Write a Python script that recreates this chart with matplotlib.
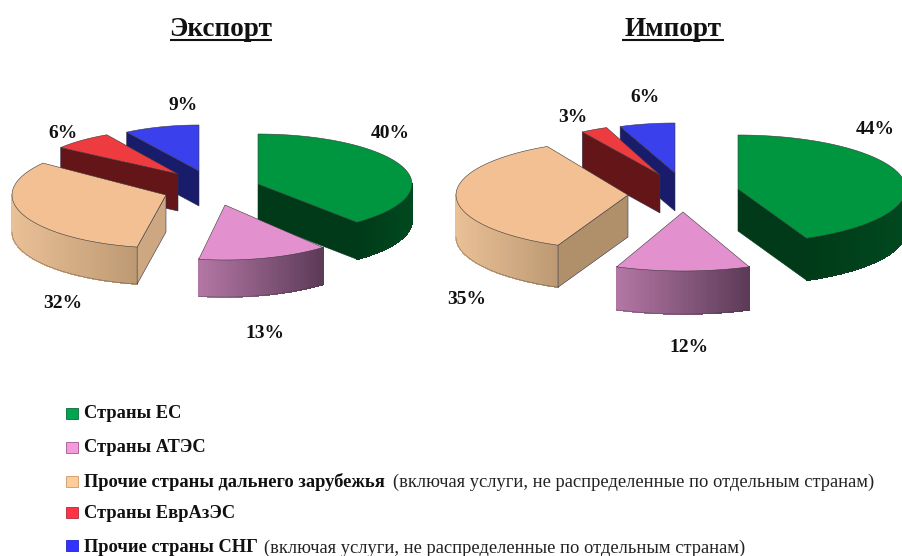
# Экспорт / Импорт - разнесенные объемные круговые диаграммы
import matplotlib
matplotlib.use('Agg')
import matplotlib.pyplot as plt
import matplotlib.colors as mcolors
from matplotlib.collections import PolyCollection
from matplotlib.patches import Polygon, Rectangle
import numpy as np

plt.rcParams['font.family'] = ['Liberation Serif', 'DejaVu Serif']

# данные
titles = ['Экспорт', 'Импорт']
export_vals = [40, 13, 32, 6, 9]
import_vals = [44, 12, 35, 3, 6]
categories_bold = ['Страны ЕС', 'Страны АТЭС', 'Прочие страны дальнего зарубежья',
                   'Страны ЕврАзЭС', 'Прочие страны СНГ']
categories_note = ['', '', '(включая услуги, не распределенные по отдельным странам)',
                   '', '(включая услуги, не распределенные по отдельным странам)']

# цвета
top_col = ['#009640', '#E391CE', '#F2C092', '#EE3B3F', '#3A40EC']
export_cut = ['#003A18', '#5C3B57', '#CCA781', '#641518', '#191C6A']
import_cut = ['#003A18', '#5C3B57', '#B0906B', '#641518', '#191C6A']
rim_left = ['#003A18', '#B477A6', '#EAC096', '#641518', '#191C6A']
rim_right = ['#00491F', '#5C3B57', '#BD9A74', '#641518', '#191C6A']
legend_col = ['#00A550', '#F39BDC', '#FFCC99', '#FF3344', '#3333FF']
legend_edge = ['#0B6B38', '#A5568F', '#C79A6A', '#B02A38', '#2222CC']

# положение секторов: вершина x, y, радиусы rx, ry, высота, поправки углов из-за перспективы
export_layout = [(258, 184, 154, 50, 37, 0, -4), (225, 205, 154, 55, 37, -3.5, -1),
                 (166, 195, 154, 53, 37, 0, 1), (178, 174, 145, 45, 37, 0, 3),
                 (199, 171, 135, 46, 35, 0, 0)]
import_layout = [(738, 189, 168, 54, 42, 0, -2.5), (683, 212, 180, 59, 43, 0, 0),
                 (628, 195, 172, 55, 42, 2.4, 4.4), (660, 175, 145, 51, 38, 0, 0),
                 (675, 173, 149, 50, 38, 0, 0)]
export_text = [(390, 133), (265, 333), (63, 303), (63, 133), (183, 105)]
import_text = [(875, 129), (689, 347), (467, 299), (573, 117), (645, 97)]
title_pos = [(221, 29), (673, 29)]
legend_y = [413, 447, 481, 512, 545]
legend_text_y = [413, 447, 482, 514, 548]
note_x = [0, 0, 393, 0, 264]

fig = plt.figure(figsize=(9.03, 5.56), dpi=100)
ax = fig.add_axes([0, 0, 1, 1])
ax.set_xlim(0, 903)
ax.set_ylim(556, 0)
ax.axis('off')


def rim_point(lay, a):
    x, y, rx, ry = lay[:4]
    return np.column_stack([x + rx * np.sin(a), y - ry * np.cos(a)])


def draw_slice(lay, a0, a1, i, cut_col):
    x, y, rx, ry, h, d0, d1 = lay
    a0 += np.radians(d0)
    a1 += np.radians(d1)
    down = np.array([0, h])
    apex = np.array([x, y])

    # боковая поверхность с градиентом
    r0, r1 = max(a0, np.pi / 2), min(a1, 3 * np.pi / 2)
    if r1 > r0:
        aa = np.linspace(r0, r1, 50)
        pts = rim_point(lay, aa)
        quads = [[pts[k], pts[k + 1], pts[k + 1] + down, pts[k] + down] for k in range(len(aa) - 1)]
        xs = pts[:, 0]
        c0, c1 = np.array(mcolors.to_rgb(rim_left[i])), np.array(mcolors.to_rgb(rim_right[i]))
        t = (xs[:-1] - xs.min()) / max(xs.max() - xs.min(), 1)
        cols = [c0 + (c1 - c0) * v for v in t]
        ax.add_collection(PolyCollection(quads, facecolors=cols, edgecolors=cols,
                                         linewidths=0.5, antialiaseds=False))
        ax.plot(pts[:, 0], pts[:, 1] + h, color='#3a3a3a', lw=0.4, alpha=0.6)

    # срезы, которые видны зрителю
    if np.sin(a0) < -1e-6:
        p = rim_point(lay, np.array([a0]))[0]
        ax.add_patch(Polygon([apex, p, p + down, apex + down], fc=cut_col[i], ec='#33304a', lw=0.4))
    if np.sin(a1) > 1e-6:
        p = rim_point(lay, np.array([a1]))[0]
        ax.add_patch(Polygon([apex, p, p + down, apex + down], fc=cut_col[i], ec=cut_col[i], lw=0.4))

    # верхняя грань
    pts = rim_point(lay, np.linspace(a0, a1, 60))
    ax.add_patch(Polygon(np.vstack([apex, pts]), fc=top_col[i], ec='#3a3a3a', lw=0.4))


def draw_pie(vals, layout, cut_col):
    edges = np.cumsum([0] + vals) / sum(vals) * 2 * np.pi
    # порядок рисования: задние секторы раньше передних
    for i in [4, 3, 2, 0, 1]:
        draw_slice(layout[i], edges[i], edges[i + 1], i, cut_col)


draw_pie(export_vals, export_layout, export_cut)
draw_pie(import_vals, import_layout, import_cut)

# подписи процентов
for vals, pos in [(export_vals, export_text), (import_vals, import_text)]:
    for v, (tx, ty) in zip(vals, pos):
        ax.text(tx, ty, f'{v}%', fontsize=14, fontweight='bold', ha='center', va='center', color='#111111')

# заголовки с подчеркиванием
for t, (tx, ty) in zip(titles, title_pos):
    ax.text(tx, ty, t, fontsize=19.5, fontweight='bold', ha='center', va='center', color='#111111')
    ax.plot([tx - 51, tx + 51], [ty + 11, ty + 11], color='#111111', lw=1.5, solid_capstyle='butt')

# легенда
for i in range(5):
    ax.add_patch(Rectangle((66, legend_y[i] - 5), 12, 11, fc=legend_col[i], ec=legend_edge[i], lw=0.6))
    ax.text(84, legend_text_y[i], categories_bold[i], fontsize=13.3, fontweight='bold', va='center', color='#111111')
    if categories_note[i]:
        ax.text(note_x[i], legend_text_y[i], categories_note[i], fontsize=13.3, va='center', color='#222222')

fig.savefig('out.png', dpi=100)
